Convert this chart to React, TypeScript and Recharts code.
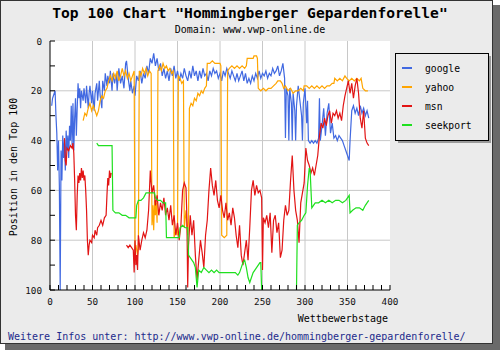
import { LineChart, Line, XAxis, YAxis, CartesianGrid } from 'recharts';

type Point = [number, number | null];

const seriesNames = ['google', 'yahoo', 'msn', 'seekport'];
const seriesColors = ['#4169e1', '#ffa500', '#e21414', '#1fe01f'];

const xTicks = [0, 10, 20, 30, 40, 50, 60, 70, 80, 90, 100, 110, 120, 130, 140, 150, 160, 170, 180, 190, 200,
  210, 220, 230, 240, 250, 260, 270, 280, 290, 300, 310, 320, 330, 340, 350, 360, 370, 380, 390, 400];
const yTicks = [0, 10, 20, 30, 40, 50, 60, 70, 80, 90, 100];
const xGrid = [50, 100, 150, 200, 250, 300, 350];
const yGrid = [20, 40, 60, 80];

// [day, rank]
const google: Point[] = [
  [2, 26], [3, 23], [5, 21], [6, 20], [7, 30], [8, 37], [9, 52], [10, 40], [11, 58], [12, 100], [13, 44], [14, 56],
  [15, 38], [16, 47], [17, 40], [18, 52], [19, 36], [20, 44], [21, 38], [22, 47], [23, 34], [24, 40], [25, 26],
  [26, 42], [27, 25], [28, 44], [29, 31], [30, 23], [31, 38], [32, 27], [33, 17], [34, 23], [35, 19], [36, 27],
  [37, 20], [39, 24], [40, 19], [42, 25], [43, 18], [45, 27], [46, 21], [47, 18], [49, 25], [50, 20], [52, 28],
  [53, 21], [55, 17], [56, 24], [58, 16], [59, 22], [61, 27], [62, 16], [64, 20], [65, 13], [67, 18], [68, 14],
  [70, 17], [71, 12], [73, 20], [74, 13], [76, 17], [78, 13], [79, 20], [81, 11], [83, 17], [85, 14], [87, 19],
  [89, 9], [90, 8], [92, 15], [94, 20], [95, 16], [97, 21], [99, 18], [100, 22], [102, 14], [104, 16], [106, 12],
  [108, 17], [110, 13], [112, 15], [114, 10], [116, 13], [118, 7], [120, 9], [122, 5], [124, 10], [126, 7],
  [128, 12], [130, 9], [132, 14], [134, 11], [136, 15], [138, 12], [140, 16], [142, 11], [144, 14], [146, 10],
  [148, 15], [150, 12], [152, 16], [154, 13], [156, 15], [158, 11], [160, 14], [162, 16], [164, 12], [166, 15],
  [168, 10], [170, 14], [172, 12], [174, 16], [176, 12], [178, 15], [180, 11], [182, 14], [184, 13], [186, 16],
  [188, 12], [190, 14], [192, 11], [194, 13], [196, 12], [198, 15], [200, 13], [202, 16], [204, 12], [206, 14],
  [208, 11], [210, 13], [212, 15], [214, 12], [216, 14], [218, 16], [220, 13], [222, 16], [224, 14], [226, 12],
  [228, 16], [230, 13], [232, 17], [234, 15], [236, 17], [238, 14], [240, 16], [242, 13], [244, 15], [246, 12],
  [248, 15], [250, 13], [252, 14], [254, 12], [256, 15], [258, 13], [260, 14], [262, 11], [264, 13], [266, 12],
  [268, 10], [270, 14], [272, 12], [274, 9], [276, 15], [277, 39], [278, 19], [280, 22], [281, 40], [282, 19],
  [284, 25], [285, 40], [286, 21], [288, 28], [289, 40], [290, 26], [292, 18], [294, 24], [296, 30], [297, 40],
  [298, 25], [300, 19], [302, 33], [303, 24], [304, 40], [306, 41], [308, 40], [310, 41], [312, 40], [314, 41],
  [316, 39], [317, 23], [318, 40], [320, 34], [322, 27], [324, 38], [326, 29], [328, 25], [330, 37], [332, 33],
  [334, 39], [336, 38], [338, 40], [340, 38], [342, 39], [344, 40], [346, 42], [348, 44], [350, 46], [352, 48],
  [353, 40], [355, 28], [357, 26], [359, 29], [361, 27], [363, 30], [365, 26], [367, 29], [369, 27], [371, 30],
  [373, 28], [375, 31],
];

const yahoo: Point[] = [
  [39, 32], [41, 29], [43, 30], [45, 27], [47, 25], [49, 28], [51, 26], [53, 28], [55, 30], [57, 28], [59, 24],
  [61, 22], [63, 23], [65, 20], [67, 19], [69, 16], [71, 14], [73, 16], [75, 13], [77, 15], [79, 12], [81, 16],
  [83, 14], [85, 11], [87, 14], [89, 12], [91, 15], [93, 13], [95, 16], [97, 14], [99, 12], [100, 84], [101, 82],
  [103, 86], [104, 83], [105, 12], [107, 14], [109, 11], [111, 13], [113, 11], [115, 14], [117, 12], [119, 13],
  [120, 74], [121, 66], [122, 76], [123, 64], [124, 70], [125, 65], [126, 73], [127, 12], [129, 10], [131, 12],
  [133, 9], [135, 11], [137, 10], [139, 12], [141, 11], [143, 13], [145, 12], [146, 79], [148, 76], [150, 78],
  [151, 14], [153, 15], [155, 17], [157, 16], [158, 75], [160, 68], [162, 78], [163, 72], [164, 27], [166, 25],
  [168, 26], [170, 23], [172, 24], [174, 21], [176, 22], [178, 20], [180, 21], [182, 19], [184, 18], [185, 9],
  [188, 9], [191, 8], [194, 9], [197, 9], [200, 9], [201, 10], [202, 78], [205, 79], [208, 78], [209, 12],
  [211, 11], [214, 10], [217, 11], [220, 10], [223, 11], [226, 10], [229, 11], [231, 10], [232, 7], [236, 7],
  [239, 7], [240, 6], [243, 6], [244, 7], [245, 19], [248, 20], [251, 19], [254, 20], [257, 19], [260, 19],
  [263, 18], [266, 17], [268, 16], [271, 16], [273, 17], [275, 19], [277, 18], [280, 20], [283, 19], [286, 21],
  [289, 20], [292, 20], [295, 19], [298, 20], [299, 18], [302, 18], [305, 19], [308, 18], [311, 19], [314, 18],
  [317, 19], [320, 18], [323, 19], [326, 18], [329, 18], [332, 17], [334, 17], [335, 15], [338, 16], [341, 15],
  [344, 16], [347, 14], [349, 15], [352, 16], [355, 15], [358, 16], [361, 15], [364, 16], [366, 15], [368, 19],
  [371, 20], [374, 20],
];

const msn: Point[] = [
  [17, 39], [18, 48], [19, 50], [20, 43], [22, 44], [24, 42], [26, 43], [27, 41], [28, 45], [29, 56], [30, 70],
  [31, 76], [32, 62], [33, 54], [34, 57], [35, 53], [36, 56], [37, 51], [38, 55], [39, 52], [40, 56], [41, 54],
  [42, 60], [43, 68], [44, 80], [45, 86], [46, 82], [47, 80], [49, 81], [50, 78], [52, 79], [53, 76], [55, 78],
  [56, 75], [58, 74], [60, 72], [62, 74], [64, 71], [66, 70], [67, 62], [68, 55], [69, 58], [70, 52], [71, 55],
  [72, 53], [73, null],
  [90, 82], [92, 83], [94, 82], [96, 83], [98, 84], [99, 93], [100, 80], [101, 90], [102, 86], [103, 92],
  [104, 78], [106, 84], [108, 80], [110, 77], [112, 79], [114, 76], [116, 68], [118, 52], [119, 57], [120, 61],
  [122, 58], [124, 66], [126, 62], [128, 70], [130, 65], [132, 68], [134, 63], [136, 70], [138, 67], [140, 72],
  [142, 66], [144, 74], [146, 70], [148, 78], [150, 73], [152, 80], [154, 74], [156, 60], [158, 57], [160, 59],
  [161, 70], [162, 99], [163, 82], [165, 70], [167, 78], [169, 72], [171, 86], [173, 96], [175, 88], [177, 80],
  [179, 85], [181, 91], [183, 78], [185, 72], [187, 60], [189, 51], [191, 58], [193, 62], [195, 56], [197, 64],
  [199, 67], [201, 62], [203, 68], [205, 71], [207, 65], [209, 72], [211, 69], [213, 74], [215, 67], [217, 71],
  [219, 78], [221, 83], [223, 74], [225, 86], [227, 90], [229, 85], [231, 80], [233, 88], [235, 75], [237, 60],
  [239, 56], [241, 62], [243, 58], [245, 61], [247, 60], [249, 63], [250, 92], [251, 71], [253, 73], [255, 70],
  [257, 75], [259, 69], [261, 85], [263, 72], [265, 70], [267, 77], [269, 73], [271, 87], [273, 84], [275, 72],
  [277, 66], [279, 70], [281, 68], [283, 56], [285, 46], [287, 60], [289, 68], [291, 72], [293, 81], [295, 65],
  [297, 61], [299, 57], [301, 43], [303, 48], [305, 50], [307, 53], [309, 51], [311, 54], [313, 50], [315, 46],
  [317, 38], [319, 33], [321, 35], [323, 31], [325, 34], [327, 30], [329, 28], [331, 33], [333, 29], [335, 30],
  [337, 28], [339, 31], [341, 29], [343, 32], [345, 26], [347, 22], [349, 19], [351, 16], [353, 21], [355, 17],
  [357, 23], [359, 18], [361, 15], [363, 21], [365, 31], [367, 35], [369, 28], [371, 39], [373, 41], [375, 42],
];

const seekport: Point[] = [
  [55, 41], [57, 42], [60, 42], [64, 42], [68, 42], [73, 42], [74, 68], [77, 69], [81, 69], [85, 70], [89, 70],
  [93, 71], [97, 71], [101, 71], [102, 66], [104, 64], [107, 64], [110, 63], [113, 61], [117, 61], [121, 61],
  [123, 61], [124, 63], [127, 64], [130, 64], [133, 65], [136, 65], [137, 79], [141, 79], [145, 79], [149, 79],
  [152, 79], [153, 75], [156, 74], [159, 75], [162, 75], [163, 86], [165, 87], [167, 88], [169, 89], [171, 91],
  [173, 99], [175, 92], [178, 93], [181, 91], [184, 92], [187, 93], [190, 92], [193, 93], [196, 92], [199, 93],
  [202, 93], [206, 93], [210, 93], [214, 93], [218, 93], [221, 94], [223, 93], [225, 91], [227, 89], [229, 88],
  [231, 91], [233, 95], [235, 97], [237, 95], [239, 93], [241, 92], [243, 91], [245, 90], [247, 89], [248, 89],
  [249, 100], [250, null],
  [290, 100], [291, 74], [293, 73], [296, 72], [299, 70], [301, 69], [303, 58], [305, 51], [306, 52], [308, 67],
  [310, 66], [312, 65], [316, 65], [320, 64], [324, 65], [328, 64], [332, 65], [336, 64], [340, 64], [344, 65],
  [348, 64], [350, 63], [352, 62], [353, 69], [356, 68], [360, 67], [364, 67], [368, 68], [371, 66], [373, 65],
  [375, 64],
];

const seriesData = [google, yahoo, msn, seekport].map((pts) => pts.map(([day, pos]) => ({ day, pos })));

const FONT = '"DejaVu Sans Mono", monospace';

const YTick = ({ x, y, payload }: any) => (
  <g>
    <line x1={x + 8} x2={x + 13} y1={y} y2={y} stroke="#000" />
    {payload.value % 20 === 0 && (
      <text x={x} y={y} dy={3.5} textAnchor="end" fontSize={9.3} fontFamily={FONT} fill="#111">
        {payload.value}
      </text>
    )}
  </g>
);

const XTick = ({ x, y, payload }: any) => (
  <g>
    <line x1={x} x2={x} y1={y - 7} y2={y - 12} stroke="#000" />
    {payload.value % 50 === 0 && (
      <text x={x} y={y} dy={7.5} textAnchor="middle" fontSize={9.3} fontFamily={FONT} fill="#111">
        {payload.value}
      </text>
    )}
  </g>
);

export default function App() {
  return (
    <div style={{ position: 'absolute', left: 0, top: 0, width: 500, height: 350 }}>
      <div style={{ position: 'absolute', left: 5, top: 5, width: 495, height: 345, background: '#6a6a6a' }} />
      <div style={{ position: 'absolute', left: 0, top: 0, width: 491, height: 342, background: '#ebebeb', border: '1px solid #333' }} />
      <div style={{ position: 'absolute', left: 0, top: 0 }}>
        <LineChart width={500} height={350} margin={{ top: 41, right: 110, left: 0, bottom: 40 }}>
          <CartesianGrid fill="#fff" stroke="#c8c8c8" horizontalValues={yGrid} verticalValues={xGrid} />
          <XAxis dataKey="day" type="number" domain={[0, 400]} ticks={xTicks} interval={0} height={20}
            allowDuplicatedCategory={false} stroke="#000" tickLine={false} tickSize={0} tickMargin={7} tick={XTick} />
          <YAxis type="number" domain={[0, 100]} reversed ticks={yTicks} interval={0} width={50}
            stroke="#000" tickLine={false} tickSize={0} tickMargin={8} tick={YTick} />
          {seriesNames.map((name, i) => (
            <Line key={name} data={seriesData[i]} dataKey="pos" name={name} type="linear" stroke={seriesColors[i]}
              strokeWidth={1.2} dot={false} activeDot={false} isAnimationActive={false} />
          ))}
        </LineChart>
      </div>
      <svg width={500} height={350} style={{ position: 'absolute', left: 0, top: 0, pointerEvents: 'none' }} fontFamily={FONT}>
        <text x={250} y={18} textAnchor="middle" fontSize={14.6} fontWeight="bold" fill="#000">
          Top 100 Chart "Hommingberger Gepardenforelle"
        </text>
        <text x={250} y={33} textAnchor="middle" fontSize={10} fill="#000">Domain: www.vwp-online.de</text>
        <text x={17} y={167} textAnchor="middle" fontSize={10} fill="#000" transform="rotate(-90 17 167)">
          Position in den Top 100
        </text>
        <text x={388} y={322} textAnchor="end" fontSize={10} fill="#000">Wettbewerbstage</text>
        <text x={8} y={340} fontSize={10} fill="#1c2a8c">
          Weitere Infos unter: http://www.vwp-online.de/hommingberger-gepardenforelle/
        </text>
        <rect x={398} y={56} width={93} height={87} fill="#9a9a9a" />
        <rect x={395.5} y={53.5} width={93} height={87} fill="#ebebeb" stroke="#000" />
        {seriesNames.map((name, i) => (
          <g key={name}>
            <line x1={402} x2={412} y1={68 + i * 19} y2={68 + i * 19} stroke={seriesColors[i]} strokeWidth={2} />
            <text x={425} y={71.5 + i * 19} fontSize={9.7} fill="#000">{name}</text>
          </g>
        ))}
      </svg>
    </div>
  );
}
